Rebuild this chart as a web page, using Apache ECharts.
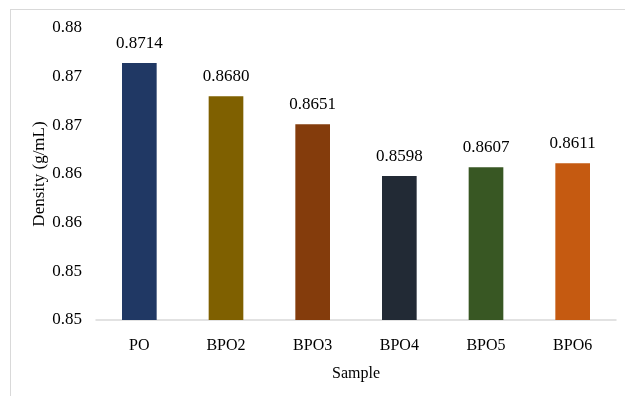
<!DOCTYPE html>
<html>
<head>
<meta charset="utf-8">
<script src="https://cdn.jsdelivr.net/npm/echarts@6/dist/echarts.min.js"></script>
<style>
html,body{margin:0;padding:0;background:#fff;}
#frame{position:absolute;left:10px;top:9px;width:640px;height:400px;border:1px solid #d9d9d9;box-sizing:border-box;}
#chart{position:absolute;left:0;top:0;width:625px;height:396px;}
</style>
</head>
<body>
<div id="frame"></div>
<div id="chart"></div>
<script>
const categories = ["PO", "BPO2", "BPO3", "BPO4", "BPO5", "BPO6"];
const densityValues = [0.8714, 0.8680, 0.8651, 0.8598, 0.8607, 0.8611];
const valueLabels = ["0.8714", "0.8680", "0.8651", "0.8598", "0.8607", "0.8611"];
const barColors = ["#203864", "#7F6000", "#843C0C", "#222A35", "#385723", "#C55A11"];
const yTickLabels = ["0.85", "0.85", "0.86", "0.86", "0.87", "0.87", "0.88"];
const yMin = 0.845, yMax = 0.875, yInterval = 0.005;

const font = '"Liberation Serif", "Times New Roman", serif';
const chart = echarts.init(document.getElementById('chart'), null, {renderer: 'canvas'});
chart.setOption({
  animation: false,
  backgroundColor: 'transparent',
  grid: {left: 96, right: 9, top: 28, bottom: 76, containLabel: false},
  xAxis: {
    type: 'category',
    data: categories,
    name: 'Sample',
    nameLocation: 'middle',
    nameGap: 46,
    nameMoveOverlap: false,
    nameTextStyle: {fontFamily: font, fontSize: 16, color: '#000'},
    axisLine: {lineStyle: {color: '#d9d9d9', width: 1.5}},
    axisTick: {show: false},
    axisLabel: {fontFamily: font, fontSize: 16, color: '#000', margin: 18}
  },
  yAxis: {
    type: 'value',
    min: yMin, max: yMax, interval: yInterval,
    name: 'Density (g/mL)',
    nameLocation: 'middle',
    nameGap: 48,
    nameMoveOverlap: false,
    nameTextStyle: {fontFamily: font, fontSize: 17, color: '#000'},
    axisLine: {show: false},
    axisTick: {show: false},
    splitLine: {show: false},
    axisLabel: {
      fontFamily: font, fontSize: 17, color: '#000', margin: 14,
      formatter: function (v) { return yTickLabels[Math.round((v - yMin) / yInterval)]; }
    }
  },
  series: [{
    type: 'bar',
    barWidth: '40%',
    data: densityValues.map((v, i) => ({value: v, itemStyle: {color: barColors[i]}})),
    label: {
      show: true, position: 'top', distance: 11,
      fontFamily: font, fontSize: 17, color: '#000',
      formatter: p => valueLabels[p.dataIndex]
    }
  }]
});
</script>
</body>
</html>
